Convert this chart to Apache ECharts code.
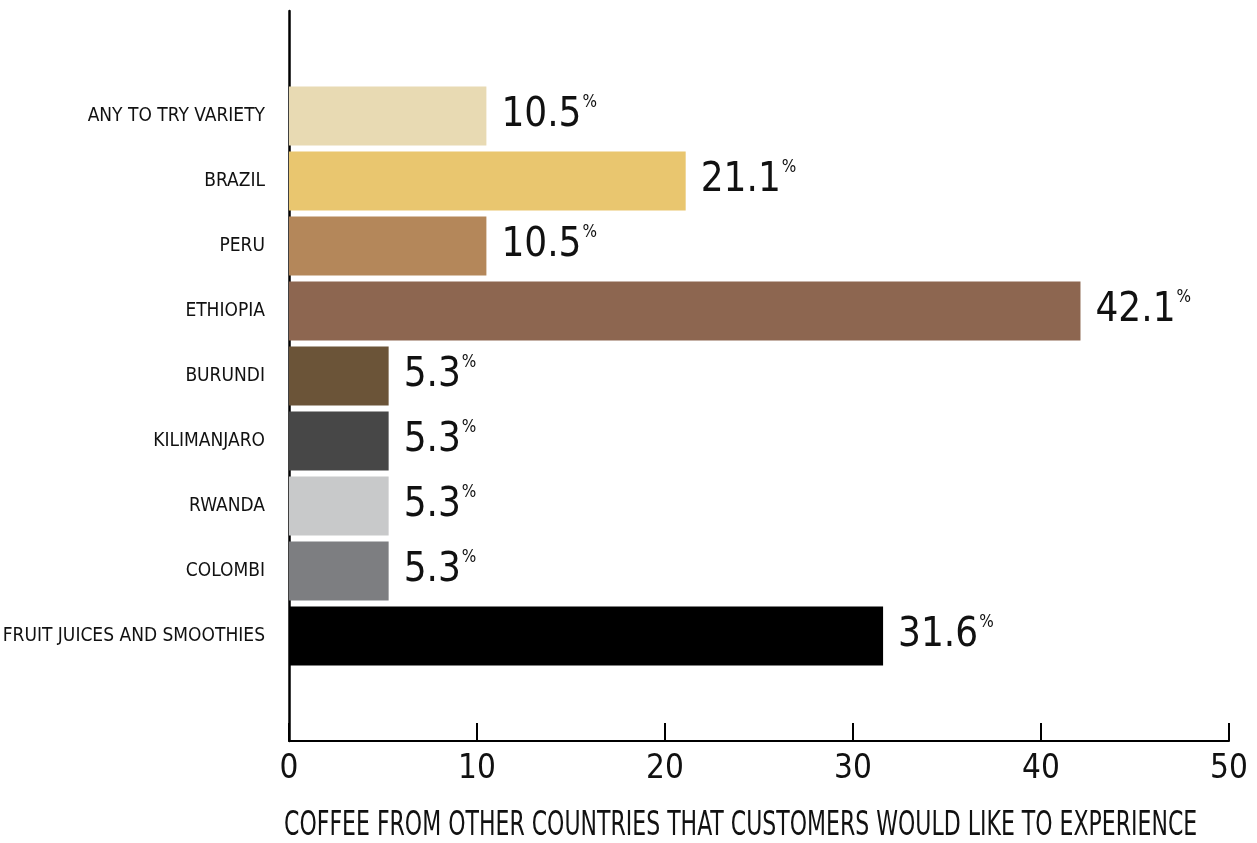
<!DOCTYPE html>
<html>
<head>
<meta charset="utf-8">
<script src="https://cdn.jsdelivr.net/npm/echarts@6/dist/echarts.min.js"></script>
<style>
html,body{margin:0;padding:0;background:#fff;}
#chart{width:1257px;height:843px;}
</style>
</head>
<body>
<div id="chart"></div>
<script>
const categories = ["ANY TO TRY VARIETY","BRAZIL","PERU","ETHIOPIA","BURUNDI","KILIMANJARO","RWANDA","COLOMBI","FRUIT JUICES AND SMOOTHIES"];
const values = [10.5, 21.1, 10.5, 42.1, 5.3, 5.3, 5.3, 5.3, 31.6];
const barColors = ["#E8DAB3","#E9C66F","#B4875A","#8D6650","#6B5438","#474747","#C8C9CA","#7D7E81","#000000"];
const xTicks = [0, 10, 20, 30, 40, 50];
const axisTitle = "COFFEE FROM OTHER COUNTRIES THAT CUSTOMERS WOULD LIKE TO EXPERIENCE";

const FONT = '"Liberation Sans Narrow","Arial Narrow","DejaVu Sans Condensed",sans-serif';
const chart = echarts.init(document.getElementById('chart'), null, {renderer:'canvas'});
chart.setOption({
  backgroundColor:'#fff',
  animation:false,
  graphic:[{
    type:'text', left:284, top:809, scaleX:0.72,
    style:{text: axisTitle, font:'normal 34px ' + FONT, fill:'#111'}
  }],
  grid:[
    {left:289, right:28, top:11, bottom:102, containLabel:false, outerBoundsMode:'none'},
    {left:289, right:28, top:83.5, bottom:174.5, containLabel:false, outerBoundsMode:'none'}
  ],
  xAxis:[
    {gridIndex:0, type:'value', min:xTicks[0], max:xTicks[xTicks.length-1], interval:10,
     axisLine:{show:true, lineStyle:{color:'#000', width:2}},
     axisTick:{show:true, inside:true, length:18, lineStyle:{color:'#000', width:2}},
     axisLabel:{show:true, margin:12, fontFamily:FONT, fontSize:33, color:'#111'},
     splitLine:{show:false}},
    {gridIndex:1, type:'value', min:xTicks[0], max:xTicks[xTicks.length-1], show:false}
  ],
  yAxis:[
    {gridIndex:0, type:'value', min:0, max:1,
     axisLine:{show:true, lineStyle:{color:'#000', width:2.5}},
     axisTick:{show:false}, axisLabel:{show:false}, splitLine:{show:false}},
    {gridIndex:1, type:'category', inverse:true, data:categories,
     axisLine:{show:false}, axisTick:{show:false},
     axisLabel:{margin:24, fontFamily:FONT, fontSize:19, color:'#111'}}
  ],
  series:[{
    type:'bar', xAxisIndex:1, yAxisIndex:1,
    barCategoryGap:'9%',
    data: values.map((v,i)=>({value:v, itemStyle:{color:barColors[i]}})),
    label:{
      show:true, position:'right', distance:15,
      formatter: p => '{v|' + p.value + '}{p|%}',
      rich:{
        v:{fontFamily:FONT, fontSize:40, color:'#111', lineHeight:44},
        p:{fontFamily:FONT, fontSize:17, color:'#111', verticalAlign:'top', lineHeight:17, padding:[0,0,20,1]}
      }
    }
  }]
});
</script>
</body>
</html>
